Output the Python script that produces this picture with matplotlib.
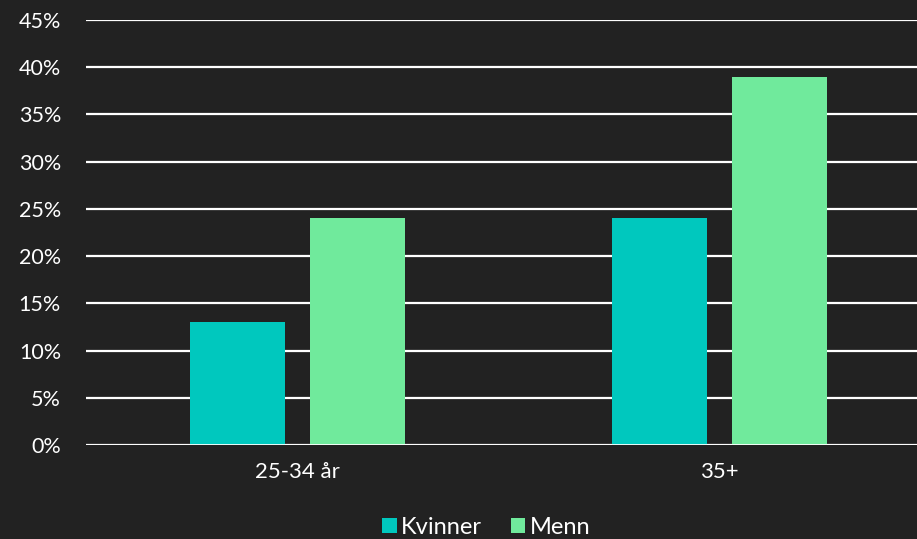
import matplotlib.pyplot as plt
import numpy as np
from matplotlib.ticker import PercentFormatter

categories = ['25-34 år', '35+']
kvinner = [13, 24]
menn = [24, 39]
yticks = list(range(0, 50, 5))

bg = '#222222'
plt.rcParams['font.family'] = ['Lato', 'DejaVu Sans']

fig = plt.figure(figsize=(9.17, 5.39), dpi=100, facecolor=bg)
ax = fig.add_axes([0.0938, 0.1744, 0.921, 0.7885], facecolor=bg)

x = np.arange(len(categories))
w = 0.225
off = 0.142
ax.bar(x - off, kvinner, w, color='#00C8BE', label='Kvinner', zorder=3)
ax.bar(x + off, menn, w, color='#70EA9C', label='Menn', zorder=3)

ax.set_xlim(-0.5, 1.5)
ax.set_ylim(0, 45)
ax.set_yticks(yticks)
ax.yaxis.set_major_formatter(PercentFormatter(decimals=0))
ax.set_xticks(x)
ax.set_xticklabels(categories)
ax.grid(axis='y', color='white', linewidth=1.6, zorder=0)
for s in ax.spines.values():
    s.set_visible(False)
ax.axhline(0, color='white', linewidth=2, zorder=4)
ax.tick_params(length=0, colors='white')
ax.tick_params(axis='y', pad=18, labelsize=15.5)
ax.tick_params(axis='x', pad=12, labelsize=16)

leg = ax.legend(loc='center', bbox_to_anchor=(0.474, -0.193), ncol=2, frameon=False,
                fontsize=17, handlelength=0.6, handleheight=0.6, handletextpad=0.2,
                columnspacing=1.2, labelcolor='white')

fig.savefig('out.png', facecolor=bg)
